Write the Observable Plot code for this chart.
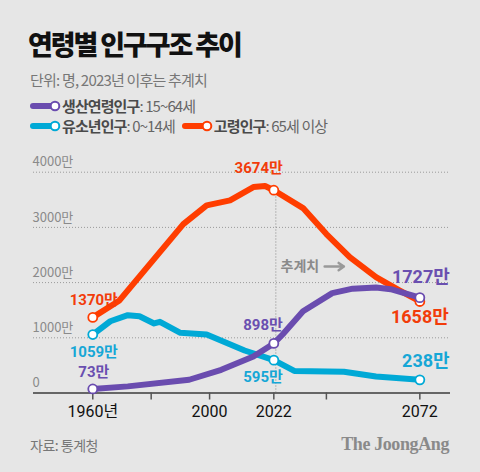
<!DOCTYPE html>
<html><head><meta charset="utf-8">
<script src="https://cdn.jsdelivr.net/npm/d3@7"></script>
<script src="https://cdn.jsdelivr.net/npm/@observablehq/plot@0.6"></script>
<style>
html,body{margin:0;padding:0;background:#e6e6e6;}
#wrap{position:relative;width:480px;height:472px;background:#e6e6e6;font-family:"Noto Sans CJK KR","Noto Sans",sans-serif;overflow:hidden;}
.abs{position:absolute;white-space:nowrap;}
#title{left:28px;top:26px;font-size:27px;font-weight:900;color:#111;letter-spacing:-2.1px;line-height:36px;}
#sub{left:30px;top:70px;font-size:15px;color:#777;letter-spacing:-0.8px;line-height:20px;}
.leg{font-size:15px;color:#666;letter-spacing:-0.9px;line-height:18px;display:flex;align-items:center;}
.leg b{color:#4a4a4a;font-weight:700;}
.sw{display:inline-block;width:32px;height:12px;margin-right:1px;}
#plot{left:0;top:150px;}
#src{left:30px;top:435px;font-size:14px;color:#777;letter-spacing:-0.5px;line-height:20px;}
#logo{right:31px;top:433px;font-family:"Liberation Serif","DejaVu Serif",serif;font-weight:700;font-size:18px;color:#8a8a8a;letter-spacing:-0.4px;line-height:22px;}
</style></head>
<body><div id="wrap">
<div class="abs" id="title">연령별 인구구조 추이</div>
<div class="abs" id="sub">단위: 명, 2023년 이후는 추계치</div>
<div class="abs leg" id="leg1" style="left:29px;top:97px;"></div>
<div class="abs leg" id="leg2" style="left:29px;top:117px;"></div>
<div class="abs" id="plot"></div>
<div class="abs" id="src">자료: 통계청</div>
<div class="abs" id="logo">The JoongAng</div>
</div>
<script>
// ---- data ----
const orangeYears = [1960, 1969, 1991, 1999, 2007, 2015, 2019, 2022, 2032, 2040, 2048, 2057, 2065, 2072];
const orangeVals  = [1370, 1670, 3060, 3400, 3490, 3730, 3750, 3674, 3350, 2880, 2460, 2100, 1860, 1658];
const purpleYears = [1960, 1972, 1993, 2004, 2015, 2022, 2025, 2032, 2042, 2049, 2057, 2062, 2072];
const purpleVals  = [73, 120, 240, 420, 660, 898, 1060, 1480, 1810, 1890, 1910, 1880, 1727];
const cyanYears   = [1960, 1966, 1972, 1976, 1981, 1983, 1990, 1999, 2012, 2022, 2029, 2046, 2057, 2072];
const cyanVals    = [1059, 1300, 1410, 1390, 1260, 1290, 1090, 1060, 770, 595, 400, 385, 300, 238];
const yTicks = [0, 1000, 2000, 3000, 4000];
const xTicks = [1960, 1980, 2000, 2022, 2040, 2072];
const xTickLabels = {1960: "1960년", 2000: "2000", 2022: "2022", 2072: "2072"};
const forecastYear = 2022;
const forecastLabel = "추계치";
const legendItems = [
  {name: "생산연령인구", range: ": 15~64세", color: "#6a4caf"},
  {name: "유소년인구", range: ": 0~14세", color: "#00a9d6"},
  {name: "고령인구", range: ": 65세 이상", color: "#ff3d00"}
];

const C = {orange: "#ff3d00", purple: "#6a4caf", cyan: "#00a9d6"};
const LC = {orange: "#f23c0a", purple: "#6a4fb0", cyan: "#16a7d6"};

const mk = (ys, vs) => ys.map((year, i) => ({year, value: vs[i]}));
const orange = mk(orangeYears, orangeVals);
const purple = mk(purpleYears, purpleVals);
const cyan = mk(cyanYears, cyanVals);
const at = (arr, y) => arr.filter(d => d.year === y);
const fmt = d => d.value + "만";

// legend
function swatch(color) {
  return `<svg class="sw" viewBox="0 0 32 12"><line x1="4" y1="6" x2="24" y2="6" stroke="${color}" stroke-width="6" stroke-linecap="round"/><circle cx="26" cy="6" r="4.3" fill="#fff" stroke="${color}" stroke-width="2"/></svg>`;
}
const item = (it, extra="") => `<span style="display:inline-flex;align-items:center;${extra}">${swatch(it.color)}<b>${it.name}</b>${it.range}</span>`;
document.getElementById("leg1").innerHTML = item(legendItems[0]);
document.getElementById("leg2").innerHTML = item(legendItems[1]) + item(legendItems[2], "margin-left:6px;");

const font = "Roboto, 'Noto Sans CJK KR', sans-serif";
const lbl = (data, color, opts) => Plot.text(data, {x: "year", y: "value", text: fmt, fill: color, fontSize: 15, fontWeight: 700, fontFamily: font, ...opts});

const chart = Plot.plot({
  width: 480, height: 280,
  marginLeft: 33, marginRight: 30, marginTop: 21.7, marginBottom: 37.5,
  style: {background: "transparent", fontFamily: font, overflow: "visible"},
  x: {domain: [1939.7, 2082.5], label: null},
  y: {domain: [0, 4000], axis: null},
  marks: [
    Plot.ruleY(yTicks.filter(d => d > 0), {stroke: "#9a9a9a", strokeWidth: 1, strokeDasharray: "1,2"}),
    Plot.text(yTicks, {y: d => d, frameAnchor: "left", text: d => d === 0 ? "0" : d + "만", textAnchor: "start", dx: -1, dy: -10, fill: "#8a8a8a", fontSize: 13, fontFamily: "'Noto Sans CJK KR', sans-serif"}),
    Plot.ruleX([forecastYear], {y1: 0, y2: 3674, stroke: "#888", strokeWidth: 1, strokeDasharray: "1,2", dx: 2}),
    Plot.ruleY([0], {stroke: "#666", strokeWidth: 2}),
    Plot.axisX(xTicks, {label: null, tickSize: 7, tickPadding: 6, tickFormat: d => xTickLabels[d] ?? "", fontSize: 16, fill: "#111", stroke: "#555", strokeWidth: 1.5, fontFamily: "Roboto, 'Noto Sans CJK KR', sans-serif"}),
    Plot.text([forecastLabel], {x: 2024.3, y: 2290, text: d => d, textAnchor: "start", fill: "#8a8a8a", fontSize: 14, fontWeight: 700, fontFamily: "'Noto Sans CJK KR', sans-serif"}),
    Plot.arrow([0], {x1: 2039.4, x2: 2046, y1: 2290, y2: 2290, stroke: "#999", strokeWidth: 2.5, headLength: 9, headAngle: 70}),
    Plot.line(cyan, {x: "year", y: "value", stroke: C.cyan, strokeWidth: 6, strokeLinejoin: "round", strokeLinecap: "round"}),
    Plot.line(orange, {x: "year", y: "value", stroke: C.orange, strokeWidth: 6, strokeLinejoin: "round", strokeLinecap: "round"}),
    Plot.line(purple, {x: "year", y: "value", stroke: C.purple, strokeWidth: 6, strokeLinejoin: "round", strokeLinecap: "round"}),
    Plot.dot([...at(cyan, 1960), ...at(cyan, 2022), ...at(cyan, 2072)], {x: "year", y: "value", r: 4.5, fill: "#fff", stroke: C.cyan, strokeWidth: 1.8}),
    Plot.dot([...at(orange, 1960), ...at(orange, 2022), ...at(orange, 2072)], {x: "year", y: "value", r: 4.5, fill: "#fff", stroke: C.orange, strokeWidth: 1.8}),
    Plot.dot([...at(purple, 1960), ...at(purple, 2022), ...at(purple, 2072)], {x: "year", y: "value", r: 4.5, fill: "#fff", stroke: C.purple, strokeWidth: 1.8}),
    lbl(at(orange, 1960), LC.orange, {dy: -17, dx: 1}),
    lbl(at(orange, 2022), LC.orange, {dy: -22, dx: 9, textAnchor: "end"}),
    lbl(at(orange, 2072), LC.orange, {dy: 16, dx: 0, fontSize: 18}),
    lbl(at(purple, 1960), LC.purple, {dy: -17, dx: 1}),
    lbl(at(purple, 2022), LC.purple, {dy: -18, dx: 9, textAnchor: "end"}),
    lbl(at(purple, 2072), LC.purple, {dy: -20, dx: 1, fontSize: 18}),
    lbl(at(cyan, 1960), LC.cyan, {dy: 18, dx: 1}),
    lbl(at(cyan, 2022), LC.cyan, {dy: 17, dx: 9, textAnchor: "end"}),
    lbl(at(cyan, 2072), LC.cyan, {dy: -19, dx: 6, fontSize: 18})
  ]
});
document.getElementById("plot").appendChild(chart);
</script>
</body></html>
